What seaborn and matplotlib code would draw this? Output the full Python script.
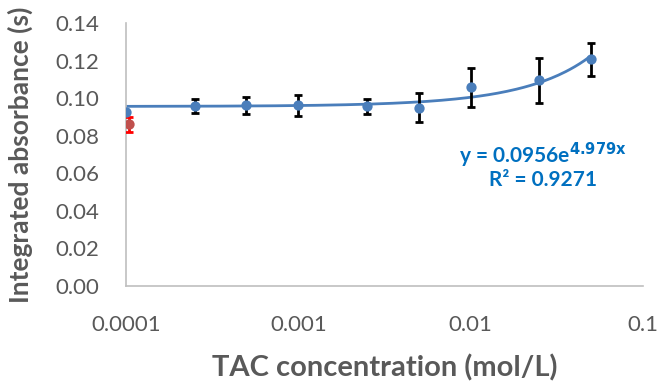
import numpy as np
import pandas as pd
import matplotlib
matplotlib.use("Agg")
import matplotlib.pyplot as plt
import seaborn as sns
from matplotlib.ticker import FixedLocator, FormatStrFormatter, LogLocator, NullFormatter

# measured points (blue) and blank (red)
conc = [0.0001, 0.00025, 0.0005, 0.001, 0.0025, 0.005, 0.01, 0.025, 0.05]
absorb = [0.0927, 0.0959, 0.0961, 0.0962, 0.0957, 0.0948, 0.1057, 0.1096, 0.1207]
absorb_err = [0.0, 0.0037, 0.0044, 0.0057, 0.0039, 0.0077, 0.0105, 0.0120, 0.0089]
blank_conc = [0.000104]
blank_abs = [0.0862]
blank_err = [0.0040]

# exponential trendline shown on the chart
fit_a = 0.0956
fit_b = 4.979

sns.set_theme(style="white")
plt.rcParams["font.family"] = ["Lato", "DejaVu Sans"]

blue = "#4a7ebb"
grey = "#595959"
spine = "#bfbfbf"

fig = plt.figure(figsize=(6.61, 3.84), dpi=100)
ax = fig.add_axes([0.1906, 0.2552, 0.7822, 0.6848])

fit_x = np.logspace(np.log10(conc[0]), np.log10(conc[-1]), 200)
fit_df = pd.DataFrame({"x": fit_x, "y": fit_a * np.exp(fit_b * fit_x)})
sns.lineplot(data=fit_df, x="x", y="y", ax=ax, color=blue, linewidth=2, zorder=2)

ax.errorbar(conc[1:], absorb[1:], yerr=absorb_err[1:], fmt="none", ecolor="black",
            elinewidth=2, capsize=3.2, capthick=2, zorder=3)
ax.errorbar(blank_conc, blank_abs, yerr=blank_err, fmt="none", ecolor="red",
            elinewidth=2, capsize=3.2, capthick=2, zorder=3)

pts = pd.DataFrame({"x": conc, "y": absorb})
sns.scatterplot(data=pts, x="x", y="y", ax=ax, color=blue, s=55, edgecolor=blue,
                linewidth=0, zorder=4)
sns.scatterplot(x=blank_conc, y=blank_abs, ax=ax, color="#c0504d", s=55,
                edgecolor="#c0504d", linewidth=0, zorder=4)

ax.set_xscale("log")
ax.set_xlim(1e-4, 1e-1)
ax.set_ylim(0, 0.14)
ax.xaxis.set_major_locator(FixedLocator([1e-4, 1e-3, 1e-2, 1e-1]))
ax.xaxis.set_major_formatter(matplotlib.ticker.FuncFormatter(lambda v, p: f"{v:g}"))
ax.xaxis.set_minor_locator(LogLocator(base=10, subs=np.arange(2, 10)))
ax.xaxis.set_minor_formatter(NullFormatter())
ax.set_yticks(np.arange(0, 0.141, 0.02))
ax.yaxis.set_minor_locator(FixedLocator(np.arange(0, 0.1401, 0.004)))
ax.yaxis.set_major_formatter(FormatStrFormatter("%.2f"))

for s in ["top", "right"]:
    ax.spines[s].set_visible(False)
for s in ["left", "bottom"]:
    ax.spines[s].set_color(spine)
    ax.spines[s].set_linewidth(1.2)

ax.tick_params(axis="both", which="major", direction="inout", length=10, width=1.2,
               color=spine, labelsize=16, labelcolor=grey)
ax.tick_params(axis="both", which="minor", direction="in", length=5, width=1.2, color=spine)
ax.tick_params(axis="x", which="major", pad=16)
ax.tick_params(axis="y", which="major", pad=14)

ax.set_xlabel("TAC concentration (mol/L)", fontsize=21, fontweight="bold", color=grey, labelpad=14)
ax.set_ylabel("Integrated absorbance (s)", fontsize=19, fontweight="bold", color=grey, labelpad=16)

ax.text(0.807, 0.498, r"y = 0.0956e$^{\mathbf{4.979x}}$", transform=ax.transAxes,
        ha="center", va="center", fontsize=15, fontweight="bold", color="#0070c0")
ax.text(0.807, 0.403, "R² = 0.9271", transform=ax.transAxes,
        ha="center", va="center", fontsize=15, fontweight="bold", color="#0070c0")

fig.savefig("out.png", dpi=100)
